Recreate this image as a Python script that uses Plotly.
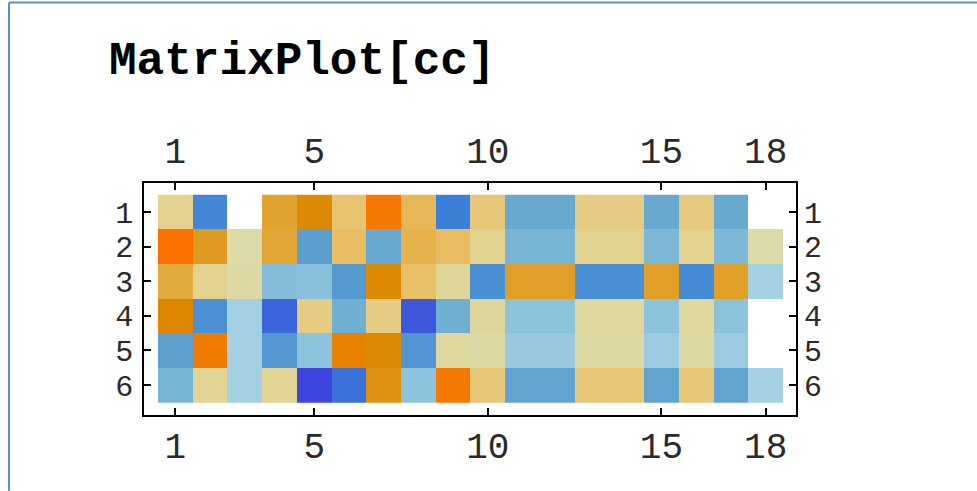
import plotly.graph_objects as go

# Matrix entries (6 rows x 18 columns); None marks an empty cell
row_labels = [1, 2, 3, 4, 5, 6]
col_labels = list(range(1, 19))
x_tick_vals = [1, 5, 10, 15, 18]

row1 = [0.11, -0.67, None, 0.48, 0.66, 0.23, 0.88, 0.33, -0.72, 0.20, -0.42, -0.42, 0.16, 0.16, -0.42, 0.18, -0.43, None]
row2 = [0.97, 0.53, 0.00, 0.45, -0.51, 0.30, -0.43, 0.37, 0.30, 0.10, -0.33, -0.33, 0.10, 0.10, -0.30, 0.11, -0.30, 0.00]
row3 = [0.42, 0.11, 0.01, -0.26, -0.24, -0.55, 0.67, 0.27, 0.06, -0.62, 0.50, 0.50, -0.62, -0.62, 0.50, -0.65, 0.50, -0.10]
row4 = [0.72, -0.61, -0.10, -0.84, 0.16, -0.38, 0.15, -0.90, -0.38, 0.04, -0.21, -0.21, 0.03, 0.03, -0.21, 0.03, -0.22, None]
row5 = [-0.50, 0.83, -0.10, -0.57, -0.21, 0.78, 0.68, -0.58, 0.03, 0.01, -0.15, -0.15, 0.01, 0.01, -0.14, 0.01, -0.14, None]
row6 = [-0.33, 0.08, -0.10, 0.08, -0.99, -0.78, 0.60, -0.21, 0.88, 0.20, -0.47, -0.47, 0.20, 0.20, -0.47, 0.20, -0.47, -0.10]

matrix = [row1, row2, row3, row4, row5, row6]

# Blue -> pale -> orange scale, defined on values in [-1, 1]
scale_points = [
    (-1.00, "#3f44e0"), (-0.85, "#3c62dc"), (-0.72, "#3a80d8"), (-0.62, "#4a8ed4"),
    (-0.52, "#5a9ecf"), (-0.42, "#68aacf"), (-0.32, "#7ab6d6"), (-0.22, "#8cc2dc"),
    (-0.10, "#a4d0e4"), (0.00, "#dcdaa6"), (0.10, "#e2d290"), (0.20, "#e8c878"),
    (0.30, "#e8bc60"), (0.40, "#e4ae44"), (0.50, "#e0a028"), (0.60, "#de9010"),
    (0.70, "#dc8800"), (0.85, "#f27a00"), (1.00, "#ff6e00"),
]
colorscale = [[(v + 1) / 2, c] for v, c in scale_points]

W, H = 977, 491
L, R, T, B = 144, 796, 182.5, 415  # plot frame in pixels


def px_x(px):
    return (px - L) / (R - L)


def px_y(py):
    return (B - py) / (B - T)


fig = go.Figure()
fig.add_trace(go.Heatmap(
    z=matrix, x=col_labels, y=row_labels,
    colorscale=colorscale, zmin=-1, zmax=1,
    showscale=False, hoverongaps=False,
))
# carrier for the mirrored top/right tick labels
fig.add_trace(go.Scatter(
    x=[col_labels[0]], y=[row_labels[0]], xaxis="x2", yaxis="y2",
    mode="markers", marker=dict(opacity=0), showlegend=False, hoverinfo="skip",
))

mono = "Liberation Mono, Courier New, monospace"
x_font = dict(family=mono, size=36, color="#2a2a2a")
y_font = dict(family=mono, size=30, color="#2a2a2a")
x_range = [0.097, 18.874]
y_range = [6.866, 0.16]

common = dict(
    showgrid=False, zeroline=False, ticks="inside", ticklen=7, tickwidth=1.5,
    tickcolor="black",
)

fig.update_layout(
    width=W, height=H,
    margin=dict(l=L, r=W - R, t=T, b=H - B, pad=0),
    paper_bgcolor="white", plot_bgcolor="white",
    showlegend=False,
    xaxis=dict(range=x_range, tickvals=x_tick_vals, side="bottom", ticklabelstandoff=-2,
               tickfont=x_font, showline=True, linecolor="black", linewidth=1.5,
               mirror=True, **common),
    xaxis2=dict(range=x_range, tickvals=x_tick_vals, side="top", overlaying="x",
                anchor="y", showline=False, ticklabelstandoff=12, tickfont=x_font, **common),
    yaxis=dict(range=y_range, tickvals=row_labels, side="left", ticklabelstandoff=3,
               tickfont=y_font, showline=True, linecolor="black", linewidth=1.5,
               mirror=True, **common),
    yaxis2=dict(range=y_range, tickvals=row_labels, side="right", overlaying="y",
                anchor="x", showline=False, ticklabelstandoff=7, tickfont=y_font, **common),
)

fig.add_annotation(
    text="<b>MatrixPlot[cc]</b>", xref="paper", yref="paper",
    x=px_x(107), y=px_y(61), xanchor="left", yanchor="middle", showarrow=False,
    font=dict(family=mono, size=46, color="black"),
)

# notebook cell border (left and top)
fig.add_shape(type="line", xref="paper", yref="paper",
              x0=px_x(9), x1=px_x(9), y0=px_y(1.5), y1=px_y(H),
              line=dict(color="#5b8ed6", width=2))
fig.add_shape(type="line", xref="paper", yref="paper",
              x0=px_x(9), x1=px_x(W), y0=px_y(1.5), y1=px_y(1.5),
              line=dict(color="#5b8ed6", width=2))

fig.write_html("out.html")
